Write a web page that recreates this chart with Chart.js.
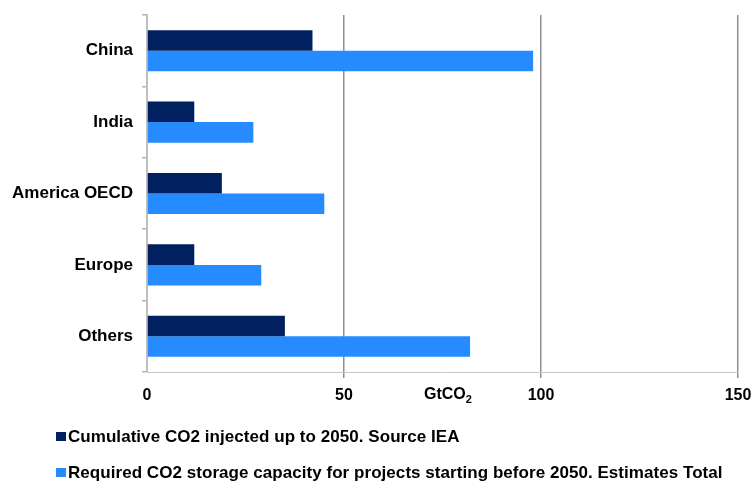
<!DOCTYPE html>
<html>
<head>
<meta charset="utf-8">
<script src="https://cdn.jsdelivr.net/npm/chart.js@4/dist/chart.umd.min.js"></script>
<style>
  html, body { margin: 0; padding: 0; background: #fff; }
  #wrap { position: relative; width: 754px; height: 488px; font-family: "Liberation Sans", Arial, sans-serif; }
  #c { position: absolute; left: 0; top: 0; }
  #unit { position: absolute; left: 424px; top: 385px; font-weight: bold; font-size: 16px; color: #000; }
  #unit sub { font-size: 11px; vertical-align: -4px; line-height: 0; }
  .leg { position: absolute; left: 56px; font-weight: bold; font-size: 17px; color: #000; white-space: nowrap; letter-spacing: 0.05px; }
  .leg i { display: inline-block; width: 10px; height: 9px; margin-right: 2px; vertical-align: 1px; }
</style>
</head>
<body>
<div id="wrap">
  <canvas id="c" width="754" height="488"></canvas>
  <div id="unit">GtCO<sub>2</sub></div>
  <div id="legend"></div>
</div>
<script>
const categories = ["China", "India", "America OECD", "Europe", "Others"];
const injectedIEA = [42, 12, 19, 12, 35];
const requiredTotal = [98, 27, 45, 29, 82];
const seriesNames = [
  "Cumulative CO2 injected up to 2050. Source IEA",
  "Required CO2 storage capacity for projects starting before 2050. Estimates Total"
];
const xTicks = [0, 50, 100, 150];
const colors = ["#002060", "#268bff"];

const chart = new Chart(document.getElementById("c"), {
  type: "bar",
  data: {
    labels: categories,
    datasets: [
      { label: seriesNames[0], data: injectedIEA, backgroundColor: colors[0], borderWidth: 0 },
      { label: seriesNames[1], data: requiredTotal, backgroundColor: colors[1], borderWidth: 0 }
    ]
  },
  options: {
    indexAxis: "y",
    responsive: false,
    animation: false,
    maintainAspectRatio: false,
    categoryPercentage: 0.575,
    barPercentage: 1.0,
    layout: { padding: { top: 15, right: 16, bottom: 0, left: 0 } },
    plugins: { legend: { display: false }, tooltip: { enabled: false } },
    scales: {
      x: {
        min: 0, max: 150,
        afterBuildTicks: (s) => { s.ticks = xTicks.map(v => ({ value: v })); },
        afterFit: (s) => { s.height = 116; s.paddingLeft = 0; s.paddingRight = 0; },
        grid: {
          color: (ctx) => ctx.tick && ctx.tick.value === 0 ? "rgba(0,0,0,0)" : "#8f8f8f",
          lineWidth: 1.5,
          tickLength: 6,
          drawTicks: true
        },
        border: { display: true, color: "#c8c8c8", width: 1 },
        ticks: {
          color: "#000",
          font: { family: "Liberation Sans, Arial, sans-serif", size: 16, weight: "bold" },
          padding: 8,
          maxRotation: 0
        }
      },
      y: {
        offset: true,
        afterFit: (s) => { s.width = 147; s.paddingTop = 0; s.paddingBottom = 0; },
        grid: {
          offset: true,
          drawOnChartArea: false,
          drawTicks: true,
          tickLength: 5,
          color: "#b4b4b4",
          lineWidth: 1.5
        },
        border: { display: true, color: "#c0c0c0", width: 2 },
        ticks: {
          color: "#000",
          font: { family: "Liberation Sans, Arial, sans-serif", size: 17, weight: "bold" },
          padding: 9
        }
      }
    }
  }
});

// HTML legend built from the datasets
const legend = document.getElementById("legend");
const legendTops = [427, 463];
chart.data.datasets.forEach((ds, i) => {
  const d = document.createElement("div");
  d.className = "leg";
  d.style.top = legendTops[i] + "px";
  d.innerHTML = '<i style="background:' + ds.backgroundColor + '"></i>' + ds.label;
  legend.appendChild(d);
});
</script>
</body>
</html>
